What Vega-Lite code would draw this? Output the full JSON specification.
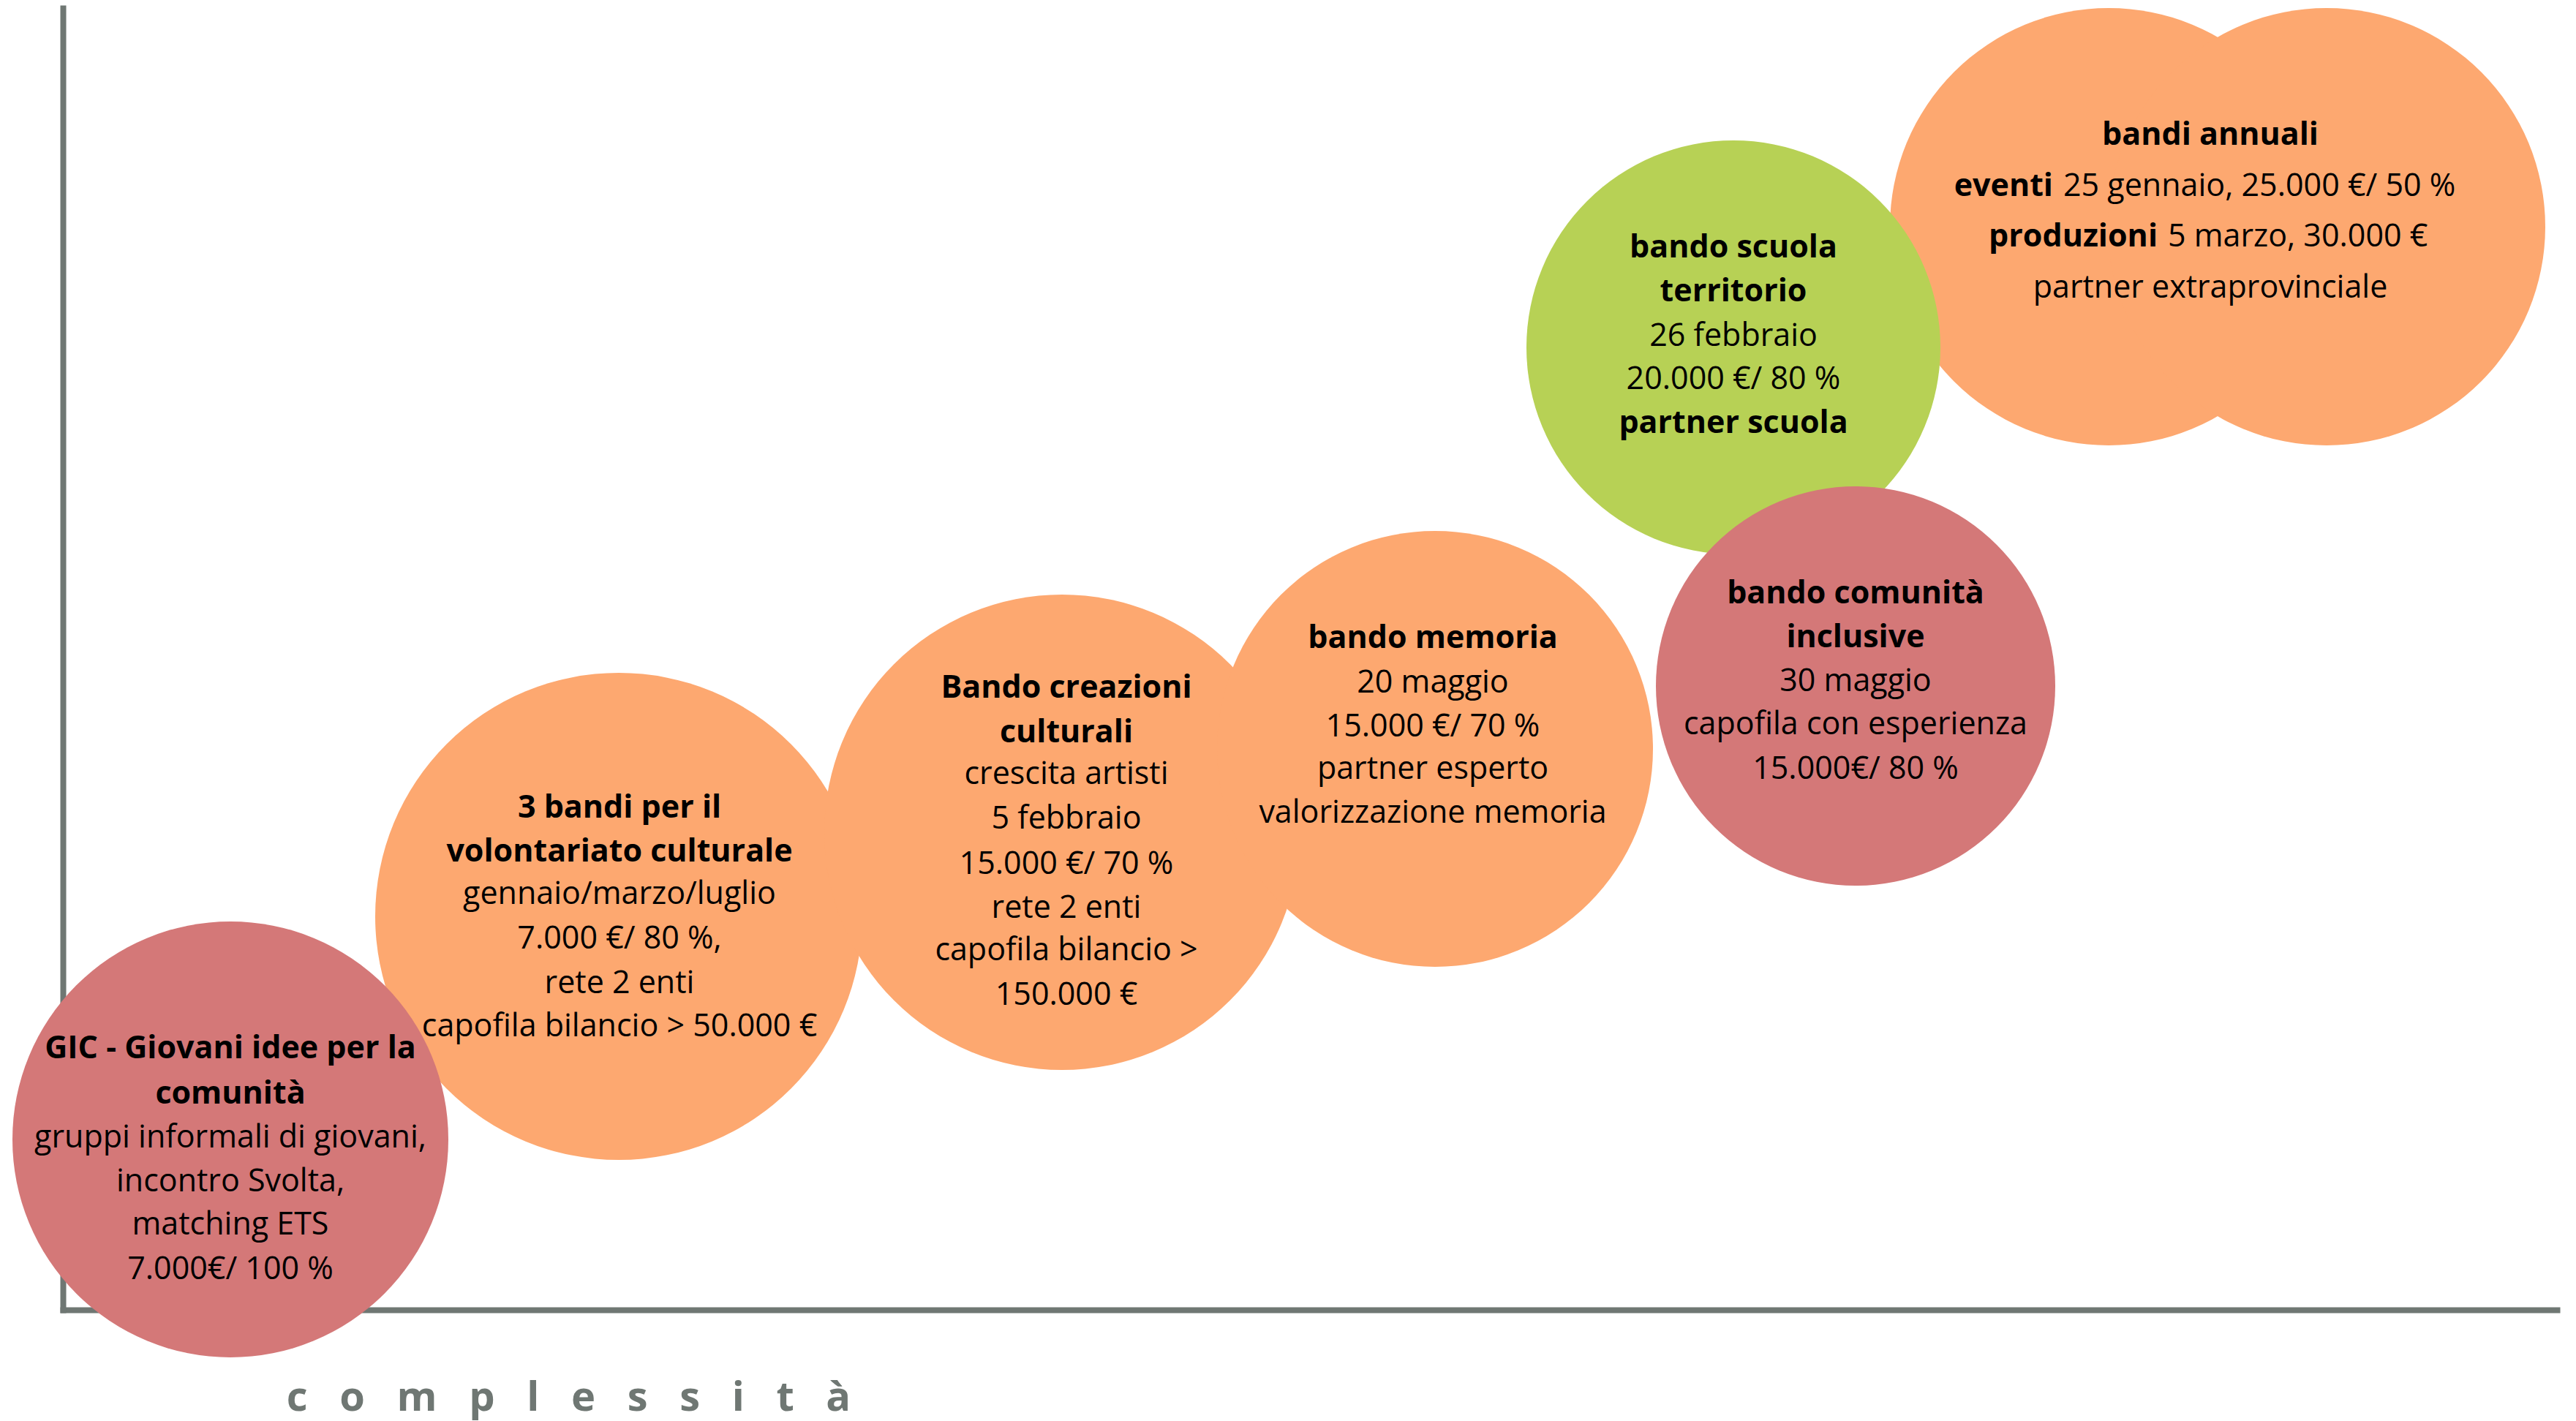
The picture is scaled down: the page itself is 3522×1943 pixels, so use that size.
{
  "$schema": "https://vega.github.io/schema/vega-lite/v6.json",
  "width": 3410,
  "height": 1780,
  "autosize": "none",
  "padding": {"left": 86, "top": 11, "right": 26, "bottom": 152},
  "background": "#ffffff",
  "config": {
    "view": {"stroke": null},
    "text": {"font": "Open Sans", "fontSize": 43, "color": "#000000"}
  },
  "datasets": {
    "cerchi": [
      {"bando": "bandi annuali (eventi)", "ambito": "cultura", "x": 279.7, "y": 148.1, "diametro": 59.8},
      {"bando": "bandi annuali (produzioni)", "ambito": "cultura", "x": 309.5, "y": 148.1, "diametro": 59.8},
      {"bando": "3 bandi per il volontariato culturale", "ambito": "cultura", "x": 76.0, "y": 53.8, "diametro": 66.6},
      {"bando": "Bando creazioni culturali", "ambito": "cultura", "x": 136.6, "y": 65.3, "diametro": 65.0},
      {"bando": "bando memoria", "ambito": "cultura", "x": 187.6, "y": 76.7, "diametro": 59.6},
      {"bando": "bando scuola territorio", "ambito": "scuola", "x": 228.4, "y": 131.6, "diametro": 56.6},
      {"bando": "bando comunità inclusive", "ambito": "comunità", "x": 245.1, "y": 85.3, "diametro": 54.6},
      {"bando": "GIC - Giovani idee per la comunità", "ambito": "comunità", "x": 22.9, "y": 23.3, "diametro": 59.6}
    ],
    "titoli": [
      {"riga": "GIC - Giovani idee per la", "x": 22.9, "y": 34.4},
      {"riga": "comunità", "x": 22.9, "y": 28.2},
      {"riga": "3 bandi per il", "x": 76.1, "y": 67.3},
      {"riga": "volontariato culturale", "x": 76.1, "y": 61.3},
      {"riga": "Bando creazioni", "x": 137.2, "y": 83.7},
      {"riga": "culturali", "x": 137.2, "y": 77.6},
      {"riga": "bando memoria", "x": 187.3, "y": 90.5},
      {"riga": "bando scuola", "x": 228.4, "y": 143.9},
      {"riga": "territorio", "x": 228.4, "y": 137.9},
      {"riga": "partner scuola", "x": 228.4, "y": 119.9},
      {"riga": "bando comunità", "x": 245.1, "y": 96.6},
      {"riga": "inclusive", "x": 245.1, "y": 90.6},
      {"riga": "bandi annuali", "x": 293.6, "y": 159.3}
    ],
    "dettagli": [
      {"riga": "gruppi informali di giovani,", "x": 22.9, "y": 22.2},
      {"riga": "incontro Svolta,", "x": 22.9, "y": 16.2},
      {"riga": "matching ETS", "x": 22.9, "y": 10.3},
      {"riga": "7.000€/ 100 %", "x": 22.9, "y": 4.2},
      {"riga": "gennaio/marzo/luglio", "x": 76.1, "y": 55.5},
      {"riga": "7.000 €/ 80 %,", "x": 76.1, "y": 49.4},
      {"riga": "rete 2 enti", "x": 76.1, "y": 43.3},
      {"riga": "capofila bilancio > 50.000 €", "x": 76.1, "y": 37.4},
      {"riga": "crescita artisti", "x": 137.2, "y": 71.9},
      {"riga": "5 febbraio", "x": 137.2, "y": 65.8},
      {"riga": "15.000 €/ 70 %", "x": 137.2, "y": 59.6},
      {"riga": "rete 2 enti", "x": 137.2, "y": 53.6},
      {"riga": "capofila bilancio >", "x": 137.2, "y": 47.8},
      {"riga": "150.000 €", "x": 137.2, "y": 41.7},
      {"riga": "20 maggio", "x": 187.3, "y": 84.4},
      {"riga": "15.000 €/ 70 %", "x": 187.3, "y": 78.4},
      {"riga": "partner esperto", "x": 187.3, "y": 72.6},
      {"riga": "valorizzazione memoria", "x": 187.3, "y": 66.6},
      {"riga": "26 febbraio", "x": 228.4, "y": 131.8},
      {"riga": "20.000 €/ 80 %", "x": 228.4, "y": 125.9},
      {"riga": "30 maggio", "x": 245.1, "y": 84.6},
      {"riga": "capofila con esperienza", "x": 245.1, "y": 78.7},
      {"riga": "15.000€/ 80 %", "x": 245.1, "y": 72.6},
      {"riga": "partner extraprovinciale", "x": 293.6, "y": 138.4}
    ],
    "misti_grassetto": [
      {"riga": "eventi", "x": 272.1, "y": 152.3},
      {"riga": "produzioni", "x": 286.4, "y": 145.4}
    ],
    "misti_normale": [
      {"riga": "25 gennaio, 25.000 €/ 50 %", "x": 273.5, "y": 152.3},
      {"riga": "5 marzo, 30.000 €", "x": 287.8, "y": 145.4}
    ]
  },
  "encoding": {
    "x": {
      "field": "x",
      "type": "quantitative",
      "scale": {"domain": [0, 341], "nice": false, "zero": false},
      "axis": {
        "title": "c\u00a0\u00a0\u00a0o\u00a0\u00a0\u00a0m\u00a0\u00a0\u00a0p\u00a0\u00a0\u00a0l\u00a0\u00a0\u00a0e\u00a0\u00a0\u00a0s\u00a0\u00a0\u00a0s\u00a0\u00a0\u00a0i\u00a0\u00a0\u00a0t\u00a0\u00a0\u00a0à",
        "domain": true,
        "domainColor": "#6f7773",
        "domainWidth": 8,
        "domainCap": "square",
        "ticks": false,
        "labels": false,
        "grid": false,
        "titleFont": "Open Sans",
        "titleFontSize": 56,
        "titleFontWeight": "bold",
        "titleColor": "#6f7773",
        "titleAlign": "center",
        "titleAnchor": "start",
        "titleBaseline": "alphabetic",
        "titleX": 691,
        "titleY": 137,
        "titleLimit": 2000
      }
    },
    "y": {
      "field": "y",
      "type": "quantitative",
      "scale": {"domain": [0, 178], "nice": false, "zero": false},
      "axis": {
        "title": null,
        "domain": true,
        "domainColor": "#6f7773",
        "domainWidth": 8,
        "domainCap": "square",
        "ticks": false,
        "labels": false,
        "grid": false
      }
    }
  },
  "layer": [
    {
      "data": {"name": "cerchi"},
      "mark": {"type": "point", "shape": "circle", "filled": true, "opacity": 1, "strokeWidth": 0},
      "encoding": {
        "size": {
          "field": "diametro",
          "type": "quantitative",
          "scale": {"type": "pow", "exponent": 2, "domain": [0, 10], "range": [0, 10000], "clamp": false},
          "legend": null
        },
        "color": {
          "field": "ambito",
          "type": "nominal",
          "scale": {"domain": ["cultura", "scuola", "comunità"], "range": ["#fda870", "#b7d155", "#d47878"]},
          "legend": null
        }
      }
    },
    {
      "data": {"name": "titoli"},
      "mark": {"type": "text", "fontWeight": "bold", "align": "center", "baseline": "alphabetic"},
      "encoding": {"text": {"field": "riga"}}
    },
    {
      "data": {"name": "dettagli"},
      "mark": {"type": "text", "fontWeight": "normal", "align": "center", "baseline": "alphabetic"},
      "encoding": {"text": {"field": "riga"}}
    },
    {
      "data": {"name": "misti_grassetto"},
      "mark": {"type": "text", "fontWeight": "bold", "align": "right", "baseline": "alphabetic"},
      "encoding": {"text": {"field": "riga"}}
    },
    {
      "data": {"name": "misti_normale"},
      "mark": {"type": "text", "fontWeight": "normal", "align": "left", "baseline": "alphabetic"},
      "encoding": {"text": {"field": "riga"}}
    }
  ]
}
